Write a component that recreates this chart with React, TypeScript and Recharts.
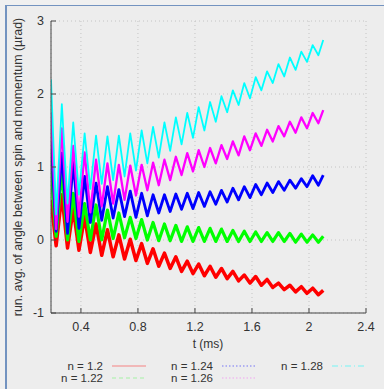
import { LineChart, Line, XAxis, YAxis, CartesianGrid } from 'recharts';

// sample times (ms): start, then alternating trough / peak of the ripple
const T_MS = [
  0.19, 0.226, 0.266, 0.306, 0.346, 0.386, 0.426, 0.466, 0.506, 0.546, 0.586, 0.626, 0.666,
  0.706, 0.746, 0.786, 0.826, 0.866, 0.906, 0.946, 0.986, 1.026, 1.066, 1.106, 1.146, 1.186,
  1.226, 1.266, 1.306, 1.346, 1.386, 1.426, 1.466, 1.506, 1.546, 1.586, 1.626, 1.666, 1.706,
  1.746, 1.786, 1.826, 1.866, 1.906, 1.946, 1.986, 2.026, 2.066, 2.1,
];

const N_120 = [
  0.55, -0.08, 0.62, -0.11, 0.43, -0.14, 0.32, -0.17, 0.22, -0.21, 0.14, -0.23, 0.07,
  -0.26, 0.01, -0.28, -0.05, -0.32, -0.12, -0.36, -0.18, -0.39, -0.23, -0.43, -0.29, -0.46,
  -0.33, -0.49, -0.36, -0.51, -0.39, -0.53, -0.43, -0.56, -0.48, -0.59, -0.5, -0.62, -0.54,
  -0.65, -0.59, -0.68, -0.62, -0.71, -0.64, -0.73, -0.66, -0.75, -0.69,
];

const N_122 = [
  0.95, 0.05, 0.96, 0.0, 0.64, -0.02, 0.5, 0.0, 0.48, 0.0, 0.41, 0.02, 0.37,
  0.03, 0.31, 0.02, 0.28, 0.0, 0.24, -0.01, 0.22, -0.01, 0.2, -0.02, 0.18, -0.02,
  0.17, -0.02, 0.16, -0.02, 0.15, -0.02, 0.13, -0.02, 0.12, -0.02, 0.11, -0.02, 0.1,
  -0.02, 0.1, -0.02, 0.09, -0.03, 0.08, -0.03, 0.07, -0.03, 0.05,
];

const N_124 = [
  1.35, 0.12, 1.19, 0.09, 1.07, 0.16, 0.87, 0.24, 0.78, 0.27, 0.73, 0.3, 0.69,
  0.32, 0.67, 0.31, 0.64, 0.33, 0.62, 0.37, 0.62, 0.39, 0.63, 0.42, 0.64, 0.43,
  0.65, 0.46, 0.66, 0.49, 0.68, 0.52, 0.71, 0.55, 0.73, 0.58, 0.76, 0.62, 0.78,
  0.65, 0.8, 0.68, 0.82, 0.71, 0.84, 0.73, 0.88, 0.75, 0.89,
];

const N_126 = [
  1.75, 0.15, 1.53, 0.25, 1.29, 0.32, 1.2, 0.38, 1.1, 0.46, 1.05, 0.5, 1.03,
  0.55, 1.02, 0.61, 1.03, 0.68, 1.06, 0.75, 1.1, 0.82, 1.14, 0.89, 1.19, 0.94,
  1.23, 1.0, 1.26, 1.05, 1.3, 1.11, 1.35, 1.16, 1.42, 1.23, 1.46, 1.29, 1.51,
  1.35, 1.56, 1.42, 1.62, 1.47, 1.68, 1.53, 1.74, 1.6, 1.78,
];

const N_128 = [
  2.2, 0.35, 1.86, 0.5, 1.61, 0.62, 1.46, 0.7, 1.43, 0.77, 1.42, 0.82, 1.43,
  0.87, 1.46, 0.95, 1.5, 1.05, 1.55, 1.13, 1.61, 1.22, 1.68, 1.31, 1.74, 1.4,
  1.82, 1.5, 1.89, 1.62, 1.97, 1.75, 2.05, 1.85, 2.15, 1.94, 2.23, 2.05, 2.31,
  2.15, 2.41, 2.24, 2.5, 2.33, 2.58, 2.44, 2.67, 2.53, 2.74,
];

const X_TICKS = [0.4, 0.8, 1.2, 1.6, 2, 2.4];
const Y_TICKS = [-1, 0, 1, 2, 3];

const SERIES = [
  { key: 'n120', label: 'n = 1.2', values: N_120, color: '#ff0000', width: 3.5, dash: '', opacity: 0.45 },
  { key: 'n122', label: 'n = 1.22', values: N_122, color: '#00ff00', width: 3.2, dash: '4 3', opacity: 0.3 },
  { key: 'n124', label: 'n = 1.24', values: N_124, color: '#0000ff', width: 2.8, dash: '1.5 2', opacity: 0.5 },
  { key: 'n126', label: 'n = 1.26', values: N_126, color: '#ff00ff', width: 2.3, dash: '1.5 2', opacity: 0.3 },
  { key: 'n128', label: 'n = 1.28', values: N_128, color: '#00ffff', width: 1.8, dash: '6 3 1 3', opacity: 0.5 },
];

const rows = T_MS.map((t, i) => {
  const r: Record<string, number> = { t };
  SERIES.forEach((s) => { r[s.key] = s.values[i]; });
  return r;
});

const FONT = '"Liberation Sans", Arial, sans-serif';
const tickStyle = { fontSize: 12.5, fill: '#333', fontFamily: FONT };

// legend is laid out column-first, like gnuplot's key
const LEGEND_POS = [
  { col: 0, row: 0 }, { col: 0, row: 1 }, { col: 1, row: 0 }, { col: 1, row: 1 }, { col: 2, row: 0 },
];

export default function App() {
  return (
    <div style={{ position: 'absolute', left: 0, top: 0, width: 384, height: 389, background: '#f0f0f0', overflow: 'hidden' }}>
      <div style={{ position: 'absolute', left: 5, top: 5, width: 400, height: 400, background: '#ededed', borderLeft: '2px solid #7393c0', borderTop: '1px solid #7393c0' }} />
      <div style={{ position: 'absolute', left: 0, top: 0 }}>
        <LineChart width={384} height={389} data={rows} margin={{ top: 21, right: 18, bottom: 46, left: 16 }}>
          <CartesianGrid stroke="#c4c4c4" strokeDasharray="1 3" />
          <XAxis
            xAxisId={0}
            dataKey="t"
            type="number"
            domain={[0.19, 2.4]}
            ticks={X_TICKS}
            allowDataOverflow
            height={30}
            tickSize={-5}
            tickMargin={14}
            stroke="#444"
            tick={tickStyle}
          />
          <XAxis
            xAxisId="top"
            orientation="top"
            dataKey="t"
            type="number"
            domain={[0.19, 2.4]}
            ticks={X_TICKS}
            allowDataOverflow
            height={0}
            tickSize={-5}
            tick={false}
            stroke="#999"
          />
          <YAxis
            yAxisId={0}
            type="number"
            domain={[-1, 3]}
            ticks={Y_TICKS}
            allowDataOverflow
            width={35}
            tickSize={-5}
            tickMargin={12}
            stroke="#444"
            tick={tickStyle}
          />
          <YAxis
            yAxisId="right"
            orientation="right"
            type="number"
            domain={[-1, 3]}
            ticks={Y_TICKS}
            allowDataOverflow
            width={0}
            tickSize={-5}
            tick={false}
            stroke="#999"
          />
          {SERIES.map((s) => (
            <Line
              key={s.key}
              dataKey={s.key}
              type="linear"
              stroke={s.color}
              strokeWidth={s.width}
              strokeLinejoin="round"
              dot={false}
              isAnimationActive={false}
            />
          ))}
        </LineChart>
      </div>
      <div
        style={{
          position: 'absolute', left: 18, top: 167, width: 0, height: 0,
        }}
      >
        <div
          style={{
            position: 'absolute', left: 0, top: 0, transform: 'translate(-50%, -50%) rotate(-90deg)',
            whiteSpace: 'nowrap', fontFamily: FONT, fontSize: 12.4, color: '#333',
          }}
        >
          run. avg. of angle between spin and momentum (µrad)
        </div>
      </div>
      <div style={{ position: 'absolute', left: 0, width: 416, top: 337, textAlign: 'center', fontFamily: FONT, fontSize: 12, color: '#333' }}>
        t (ms)
      </div>
      <svg style={{ position: 'absolute', left: 0, top: 0 }} width={384} height={389}>
        {SERIES.map((s, i) => {
          const p = LEGEND_POS[i];
          const xr = 103 + p.col * 110;
          const y = 366 + p.row * 12;
          return (
            <g key={s.key}>
              <text x={xr} y={y + 4} textAnchor="end" fontFamily={FONT} fontSize={11.5} fill="#333">{s.label}</text>
              <line x1={xr + 9} x2={xr + 43} y1={y} y2={y} stroke={s.color} strokeOpacity={s.opacity} strokeWidth={1} strokeDasharray={s.dash || undefined} />
            </g>
          );
        })}
      </svg>
    </div>
  );
}
